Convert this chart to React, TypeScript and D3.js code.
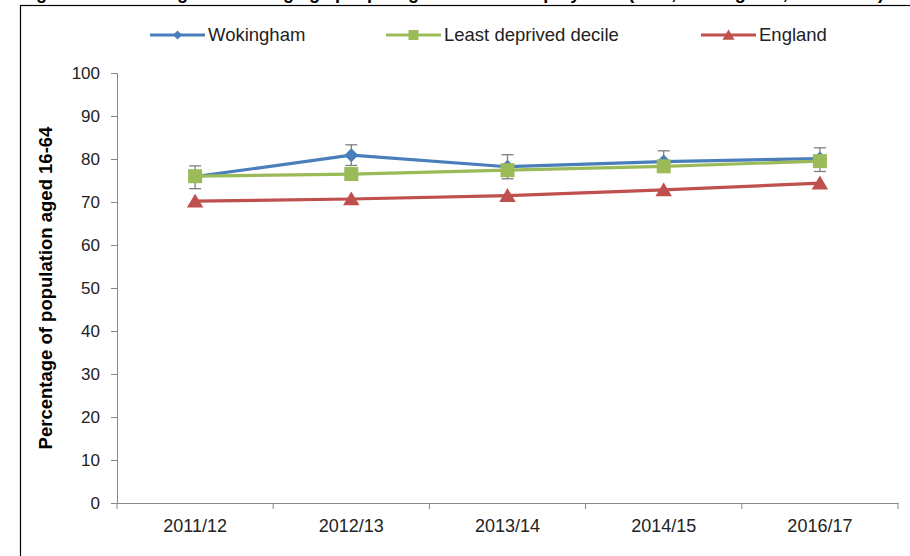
import React, { useEffect, useRef } from 'react'
import * as d3 from 'd3'

const years = ['2011/12', '2012/13', '2013/14', '2014/15', '2016/17']
const wokingham = [75.9, 80.9, 78.2, 79.4, 80.1]
const wokinghamLow = [73.1, 78.5, 75.4, 76.9, 77.1]
const wokinghamHigh = [78.4, 83.3, 81.0, 81.9, 82.6]
const leastDeprived = [76.0, 76.5, 77.4, 78.3, 79.5]
const england = [70.2, 70.7, 71.5, 72.8, 74.4]
const yTicks = [0, 10, 20, 30, 40, 50, 60, 70, 80, 90, 100]

const seriesNames = ['Wokingham', 'Least deprived decile', 'England']
const colors = ['#4A7EBB', '#9BBB59', '#C0504D']

const width = 910
const height = 556
const margin = { left: 117, right: 12, top: 73, bottom: 53 }

function App() {
    const ref = useRef(null)

    useEffect(() => {
        const svg = d3.select(ref.current)
        svg.selectAll('*').remove()

        const x = d3.scaleBand().domain(years).range([margin.left, width - margin.right])
        const y = d3.scaleLinear().domain([0, 100]).range([height - margin.bottom, margin.top])
        const cx = d => x(d) + x.bandwidth() / 2

        const font = 'Liberation Sans, Arial, sans-serif'

        // title (cut off at the top edge, only descenders show) and frame
        svg.append('text')
            .attr('x', 20).attr('y', -1.5)
            .attr('font-family', font)
            .attr('font-weight', 'bold').attr('font-size', 18)
            .text('Figure 9: Percentage of working age people aged 16-64 in employment (APS, Wokingham, 2011-2017)')
        svg.append('rect')
            .attr('x', 20.5).attr('y', 5.5).attr('width', 920).attr('height', 600)
            .attr('fill', 'none').attr('stroke', '#000').attr('stroke-width', 1.2)

        // y axis
        const yAxis = svg.append('g')
            .attr('transform', `translate(${margin.left},0)`)
            .call(d3.axisLeft(y).tickValues(yTicks).tickSize(6).tickPadding(11))
        yAxis.select('.domain').attr('stroke', '#868686')
        yAxis.selectAll('.tick line').attr('stroke', '#868686')
        yAxis.selectAll('.tick text').attr('font-size', 17).attr('font-family', font).attr('fill', '#222')

        // x axis
        const xAxis = svg.append('g')
            .attr('transform', `translate(0,${height - margin.bottom})`)
            .call(d3.axisBottom(x).tickSize(0).tickPadding(16))
        xAxis.select('.domain').attr('stroke', '#868686')
        xAxis.selectAll('.tick text').attr('font-size', 18).attr('font-family', font).attr('fill', '#222')
        const bounds = [...years.map(d => x(d)), x(years[years.length - 1]) + x.bandwidth()]
        xAxis.selectAll('.sep')
            .data(bounds)
            .join('line')
            .attr('x1', d => d).attr('x2', d => d)
            .attr('y1', 0).attr('y2', 6)
            .attr('stroke', '#868686')

        // y title
        svg.append('text')
            .attr('transform', `translate(52,${(margin.top + height - margin.bottom) / 2}) rotate(-90)`)
            .attr('text-anchor', 'middle')
            .attr('font-family', font).attr('font-weight', 'bold').attr('font-size', 18.5)
            .text('Percentage of population aged 16-64')

        const line = d3.line<number>().x((_d, i) => cx(years[i])).y(d => y(d))

        const diamond = (s: number) => `M0,${-s}L${s},0L0,${s}L${-s},0Z`
        const square = (s: number) => `M${-s},${-s}H${s}V${s}H${-s}Z`
        const triangle = (s: number) => `M0,${-s}L${s * 1.1},${s * 0.85}H${-s * 1.1}Z`
        const shapes = [diamond, square, triangle]
        const sizes = [7, 7, 7.5]
        const legendSizes = [4.5, 5, 5.5]

        const draw = (vals: number[], k: number, errLow?: number[], errHigh?: number[]) => {
            const g = svg.append('g')
            g.append('path')
                .attr('d', line(vals))
                .attr('fill', 'none').attr('stroke', colors[k]).attr('stroke-width', 3.2)
                .attr('stroke-linejoin', 'round')
            if (errLow && errHigh) {
                const eb = g.selectAll('.err').data(vals).join('g').attr('class', 'err')
                    .attr('stroke', '#7f7f7f').attr('stroke-width', 1.3)
                eb.append('line')
                    .attr('x1', (_d, i) => cx(years[i])).attr('x2', (_d, i) => cx(years[i]))
                    .attr('y1', (_d, i) => y(errLow[i])).attr('y2', (_d, i) => y(errHigh[i]))
                eb.append('line')
                    .attr('x1', (_d, i) => cx(years[i]) - 6).attr('x2', (_d, i) => cx(years[i]) + 6)
                    .attr('y1', (_d, i) => y(errLow[i])).attr('y2', (_d, i) => y(errLow[i]))
                eb.append('line')
                    .attr('x1', (_d, i) => cx(years[i]) - 6).attr('x2', (_d, i) => cx(years[i]) + 6)
                    .attr('y1', (_d, i) => y(errHigh[i])).attr('y2', (_d, i) => y(errHigh[i]))
            }
            g.selectAll('.mk').data(vals).join('path').attr('class', 'mk')
                .attr('transform', (d, i) => `translate(${cx(years[i])},${y(d)})`)
                .attr('d', shapes[k](sizes[k]))
                .attr('fill', colors[k])
        }

        draw(wokingham, 0, wokinghamLow, wokinghamHigh)
        draw(leastDeprived, 1)
        draw(england, 2)

        // legend
        const legendX = [150, 386, 701]
        const lg = svg.append('g').selectAll('g')
            .data(seriesNames)
            .join('g')
            .attr('transform', (_d, i) => `translate(${legendX[i]},35)`)
        lg.append('line')
            .attr('x1', 0).attr('x2', 55).attr('y1', 0).attr('y2', 0)
            .attr('stroke', (_d, i) => colors[i]).attr('stroke-width', 3.2)
        lg.append('path')
            .attr('transform', 'translate(27.5,0)')
            .attr('d', (_d, i) => shapes[i](legendSizes[i]))
            .attr('fill', (_d, i) => colors[i])
        lg.append('text')
            .attr('x', 58).attr('dy', '0.35em')
            .attr('font-family', font).attr('font-size', 18.5).attr('fill', '#222')
            .text(d => d)
    }, [])

    return (
        <svg ref={ref} width={width} height={height}
            style={{ position: 'absolute', left: 0, top: 0, background: '#fff' }} />
    )
}

export default App
